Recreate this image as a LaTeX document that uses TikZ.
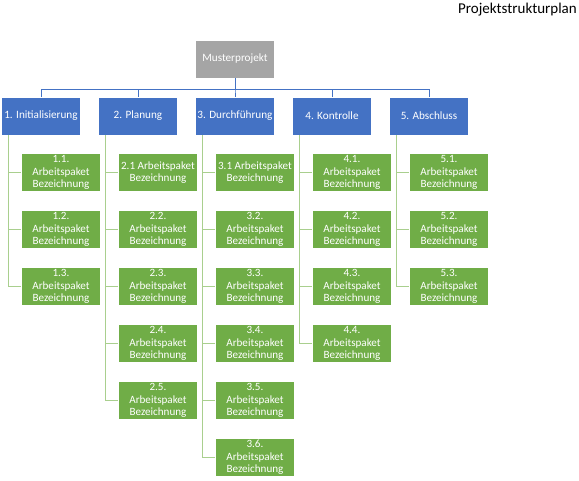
\documentclass[tikz,border=0pt]{standalone}
\usepackage{fontspec}
\setmainfont{Carlito}
\definecolor{psgrau}{HTML}{A5A5A5}
\definecolor{psblau}{HTML}{4472C4}
\definecolor{psgruen}{HTML}{70AD47}
\definecolor{pslinie}{HTML}{A9CF8E}

\begin{document}
\begin{tikzpicture}[x=1pt, y=-1pt,
    kopf/.style={rectangle, fill=psgrau, draw=white, minimum width=79pt, minimum height=38pt, inner sep=1pt, text=white, font=\fontsize{11.2}{13}\selectfont},
    phase/.style={rectangle, fill=psblau, draw=white, minimum width=79pt, minimum height=38pt, inner sep=1pt, text=white, font=\fontsize{11.2}{13}\selectfont},
    paket/.style={rectangle, fill=psgruen, draw=white, minimum width=79pt, minimum height=38pt, inner sep=1pt, text=white, align=center, font=\fontsize{11.1}{12.4}\selectfont},
    blaulinie/.style={draw=psblau, line width=1pt},
    gruenlinie/.style={draw=pslinie, line width=1.2pt}
]
\useasboundingbox (0,0) rectangle (579,480);

% titel
\node[anchor=east, inner sep=0pt, font=\fontsize{15}{18}\selectfont] (titel) at (577,10) {Projektstrukturplan};

% projekt und phasen
\node[kopf] (muster) at (235,59) {Musterprojekt};
\node[phase] (p1) at (41,116) {1. Initialisierung};
\node[phase] (p2) at (138,116) {2. Planung};
\node[phase] (p3) at (235,116) {3. Durchführung};
\node[phase] (p4) at (332,116) {4. Kontrolle};
\node[phase] (p5) at (429,116) {5. Abschluss};

% erste arbeitspakete
\node[paket] (a11) at (61,172.5) {1.1.\\Arbeitspaket\\Bezeichnung};
\node[paket] (a21) at (158,172.5) {2.1 Arbeitspaket\\Bezeichnung};
\node[paket] (a31) at (255,172.5) {3.1 Arbeitspaket\\Bezeichnung};
\node[paket] (a41) at (352,172.5) {4.1.\\Arbeitspaket\\Bezeichnung};
\node[paket] (a51) at (449,172.5) {5.1.\\Arbeitspaket\\Bezeichnung};

% weitere arbeitspakete
\foreach \c/\x/\n in {1/61/3, 2/158/5, 3/255/6, 4/352/4, 5/449/3} {
    \foreach \r in {2,...,\n} {
        \node[paket] (a\c\r) at (\x,172.5+57*\r-57) {\c.\r.\\Arbeitspaket\\Bezeichnung};
    }
    % verbindungen
    \draw[blaulinie] (muster.south) -- ++(0,11) -| (p\c.north);
    \foreach \r in {1,...,\n} {
        \draw[gruenlinie] ([xshift=7pt]p\c.south west) |- (a\c\r.west);
    }
}

\end{tikzpicture}
\end{document}
